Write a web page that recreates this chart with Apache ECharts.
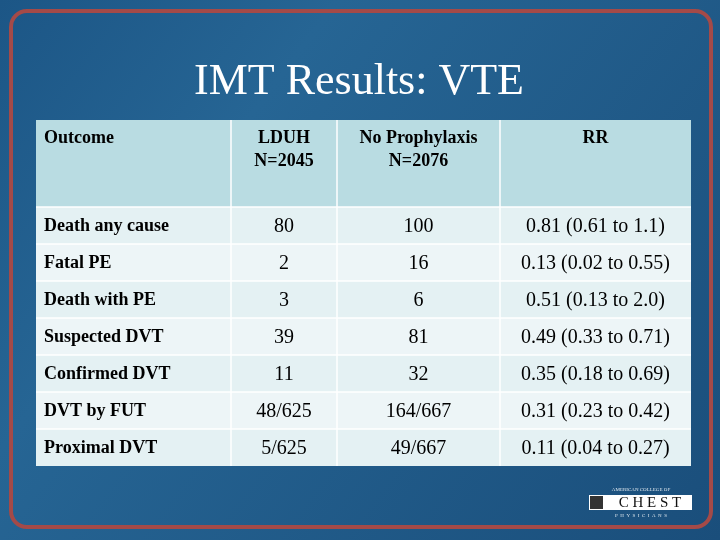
<!DOCTYPE html>
<html>
<head>
<meta charset="utf-8">
<script src="https://cdn.jsdelivr.net/npm/echarts@6/dist/echarts.min.js"></script>
<style>html,body{margin:0;padding:0;background:#1d5583}#main{width:720px;height:540px}</style>
</head>
<body>
<div id="main"></div>
<script>
var headers = ['Outcome', 'LDUH\nN=2045', 'No Prophylaxis\nN=2076', 'RR']
var outcomes = ['Death any cause', 'Fatal PE', 'Death with PE', 'Suspected DVT', 'Confirmed DVT', 'DVT by FUT', 'Proximal DVT']
var lduh = ['80', '2', '3', '39', '11', '48/625', '5/625']
var noProph = ['100', '16', '6', '81', '32', '164/667', '49/667']
var rr = ['0.81 (0.61 to 1.1)', '0.13 (0.02 to 0.55)', '0.51 (0.13 to 2.0)', '0.49 (0.33 to 0.71)',
  '0.35 (0.18 to 0.69)', '0.31 (0.23 to 0.42)', '0.11 (0.04 to 0.27)']

var chart = echarts.init(document.getElementById('main'))
var colX = [36, 231, 337, 500, 691]
var headTop = 120, headBottom = 207, rowH = 37
var font = '"Liberation Serif", "Times New Roman", serif'
var els = []

// background + frame
els.push({type: 'rect', shape: {x: 0, y: 0, width: 720, height: 540},
  style: {fill: new echarts.graphic.LinearGradient(0, 0, 1, 1, [
    {offset: 0, color: '#1c5686'}, {offset: 0.3, color: '#266594'}, {offset: 1, color: '#1a4e7b'}])}})
els.push({type: 'rect', shape: {x: 11, y: 11, width: 700, height: 516, r: 16},
  style: {fill: 'none', stroke: '#a44a48', lineWidth: 4}})
els.push({type: 'text', style: {x: 359, y: 82, text: 'IMT Results: VTE', fill: '#ffffff',
  font: '44px ' + font, align: 'center', verticalAlign: 'middle'}})

// header
els.push({type: 'rect', shape: {x: colX[0], y: headTop, width: colX[4] - colX[0], height: headBottom - headTop},
  style: {fill: '#b9dce2'}})
headers.forEach(function (h, i) {
  var cx = i === 0 ? colX[0] + 8 : (colX[i] + colX[i + 1]) / 2
  els.push({type: 'text', style: {x: cx, y: 127, text: h, fill: '#000', lineHeight: 23,
    font: 'bold 18px ' + font, align: i === 0 ? 'left' : 'center', verticalAlign: 'top'}})
})

// rows
outcomes.forEach(function (o, r) {
  var y = headBottom + r * rowH
  els.push({type: 'rect', shape: {x: colX[0], y: y, width: colX[4] - colX[0], height: rowH},
    style: {fill: r % 2 === 0 ? '#e4f1f3' : '#edf5f7'}})
  var vals = [o, lduh[r], noProph[r], rr[r]]
  vals.forEach(function (v, i) {
    var cx = i === 0 ? colX[0] + 8 : (colX[i] + colX[i + 1]) / 2
    els.push({type: 'text', style: {x: cx, y: y + rowH / 2 + 1, text: v, fill: '#000',
      font: (i === 0 ? 'bold 18px ' : '20px ') + font, align: i === 0 ? 'left' : 'center', verticalAlign: 'middle'}})
  })
  els.push({type: 'line', shape: {x1: colX[0], y1: y, x2: colX[4], y2: y}, style: {stroke: '#ffffff', lineWidth: 1.5}})
})
for (var c = 1; c < 4; c++) {
  els.push({type: 'line', shape: {x1: colX[c], y1: headTop, x2: colX[c], y2: headBottom + rowH * outcomes.length},
    style: {stroke: '#ffffff', lineWidth: 1.5}})
}

// logo
els.push({type: 'text', style: {x: 641, y: 490, text: 'AMERICAN COLLEGE OF', fill: '#dfe8ef',
  font: '5px ' + font, align: 'center', verticalAlign: 'middle'}})
els.push({type: 'rect', shape: {x: 589, y: 495, width: 103, height: 15}, style: {fill: '#ffffff'}})
els.push({type: 'rect', shape: {x: 590, y: 496, width: 13, height: 13}, style: {fill: '#333'}})
els.push({type: 'text', style: {x: 650, y: 503, text: 'C H E S T', fill: '#111',
  font: '15px ' + font, align: 'center', verticalAlign: 'middle'}})
els.push({type: 'text', style: {x: 641, y: 516, text: 'P  H  Y  S  I  C  I  A  N  S', fill: '#dfe8ef',
  font: '5px ' + font, align: 'center', verticalAlign: 'middle'}})

chart.setOption({graphic: {elements: els}})
</script>
</body>
</html>
